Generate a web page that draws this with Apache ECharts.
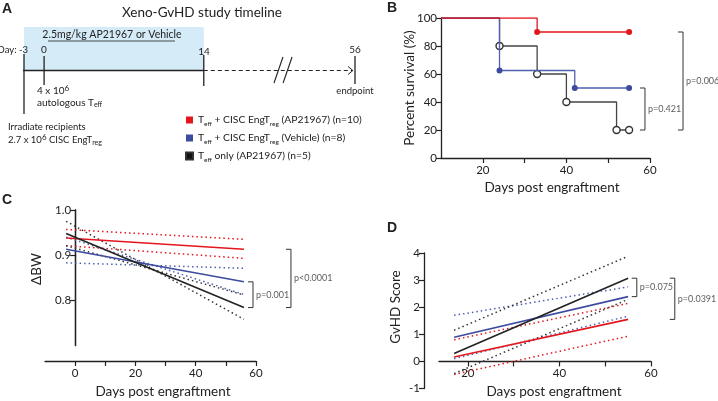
<!DOCTYPE html>
<html><head><meta charset="utf-8">
<script src="https://cdn.jsdelivr.net/npm/echarts@6/dist/echarts.min.js"></script>
<style>html,body{margin:0;padding:0;background:#fff}#c{width:718px;height:401px}</style>
</head><body><div id="c"></div>
<script>
// ================= DATA =================
// Panel A – study timeline (days)
const timelineDays = [-3, 0, 14, 56];
const timelineDayLabels = ['Day: -3', '0', '14', '56'];
const treatmentWindow = [-3, 14];
const timelineTitle = 'Xeno-GvHD study timeline';
const treatmentLabel = '2.5mg/kg AP21967 or Vehicle';

// Groups
const groupKeys = ['AP21967', 'Vehicle', 'Teff only'];
const groupLegend = [
  'T{s|eff} + CISC EngT{s|reg} (AP21967) (n=10)',
  'T{s|eff} + CISC EngT{s|reg} (Vehicle) (n=8)',
  'T{s|eff} only (AP21967) (n=5)'
];

// Panel B – Kaplan-Meier survival
const kmDaysAP = [10, 33, 55];
const kmSurvAP = [100, 90, 90];
const kmMarkAP = [false, true, true];
const kmDaysVeh = [10, 24, 42, 55];
const kmSurvVeh = [100, 62.5, 50, 50];
const kmMarkVeh = [false, true, true, true];
const kmDaysOnly = [10, 24, 33, 40, 52, 55];
const kmSurvOnly = [100, 80, 60, 40, 20, 20];
const kmMarkOnly = [false, true, true, true, true, true];
const pValuesB = ['p=0.421', 'p=0.006'];

// Panel C – body weight regression (ΔBW), values at first/last day
const bwDays = [-3, 56];
const bwAP = [0.938, 0.913];
const bwAPBandA = [0.957, 0.935];
const bwAPBandB = [0.921, 0.893];
const bwVeh = [0.913, 0.841];
const bwVehBandA = [0.883, 0.871];
const bwVehBandB = [0.940, 0.813];
const bwOnly = [0.948, 0.784];
const bwOnlyBandA = [0.975, 0.758];
const bwOnlyBandB = [0.921, 0.812];
const pValuesC = ['p=0.001', 'p<0.0001'];

// Panel D – GvHD score regression
const gvDays = [17, 55];
const gvAP = [0.16, 1.55];
const gvAPBandA = [0.80, 2.14];
const gvAPBandB = [-0.48, 0.93];
const gvVeh = [0.89, 2.39];
const gvVehBandA = [1.70, 2.75];
const gvVehBandB = [0.10, 1.67];
const gvOnly = [0.29, 3.07];
const gvOnlyBandA = [1.15, 3.88];
const gvOnlyBandB = [-0.45, 2.29];
const pValuesD = ['p=0.075', 'p=0.0391'];

// ================= STYLE / LAYOUT =================
const FONT = 'Lato, "Open Sans", sans-serif';
const INK = '#222';
const RED = '#e3161d', BLUE = '#3c4a9f', BLUE_L = '#5060b0', BLACK = '#222', GREY = '#444';
const DOT = [1.5, 3];

// schematic (non-linear) placement of timeline days along panel A
const tlAnchorDay = [-3, 0, 14, 56];
const tlAnchorPos = [0, 1.9, 17, 31.3];
function tl(d) {
  for (let i = 0; i < tlAnchorDay.length - 1; i++) {
    if (d <= tlAnchorDay[i + 1]) {
      const t = (d - tlAnchorDay[i]) / (tlAnchorDay[i + 1] - tlAnchorDay[i]);
      return tlAnchorPos[i] + t * (tlAnchorPos[i + 1] - tlAnchorPos[i]);
    }
  }
  return tlAnchorPos[tlAnchorPos.length - 1];
}

// plot frames
const B = { left: 441, top: 18, width: 209, height: 140, xmin: 10, xmax: 60, ymin: 0, ymax: 100 };
const C = { left: 45, top: 210, width: 211, height: 135.5, xmin: -10, xmax: 60, ymin: 0.7, ymax: 1.0 };
const D = { left: 439, top: 253, width: 212, height: 135.5, xmin: 13.7, xmax: 60, ymin: -1, ymax: 4 };
const ppu = f => f.width / (f.xmax - f.xmin);

const chart = echarts.init(document.getElementById('c'));
const grids = [], xAxis = [], yAxis = [], series = [];
function addGrid(g, xa, ya) {
  const gi = grids.length;
  grids.push(g);
  xAxis.push({ gridIndex: gi, type: 'value', ...xa });
  yAxis.push({ gridIndex: gi, type: 'value', ...ya });
  return gi;
}

const axLine = { show: true, lineStyle: { color: INK, width: 1.3 } };
const tick = { show: true, length: 5, lineStyle: { color: INK, width: 1.2 } };
const lbl = { color: INK, fontSize: 11.5, fontFamily: FONT, margin: 4 };
const noSplit = { show: false };

// ---------- Panel A ----------
const gA = addGrid({ left: 24, top: 20, width: 331, height: 100 },
  { min: 0, max: 31.3, show: false }, { min: 0, max: 10, inverse: true, show: false });
const A = { xAxisIndex: gA, yAxisIndex: gA };
const lineY = 5.05;
series.push({
  type: 'line', ...A, silent: true, symbol: 'none',
  data: [[tl(treatmentWindow[0]) - 0.1, lineY], [tl(treatmentWindow[1]), lineY]],
  lineStyle: { color: INK, width: 1.3 },
  markArea: {
    silent: true, itemStyle: { color: '#d6ebf8' },
    data: [[{ coord: [tl(treatmentWindow[0]) - 0.1, 0.7] }, { coord: [tl(treatmentWindow[1]), lineY] }]]
  }
});
series.push({
  type: 'line', ...A, silent: true, symbol: 'none',
  data: [[tl(treatmentWindow[1]), lineY], [tl(timelineDays[3]) - 0.2, lineY]],
  lineStyle: { color: INK, width: 1.2, type: [4, 3] }
});
series.push({
  type: 'line', ...A, silent: true, symbol: 'none',
  data: [[tl(timelineDays[3]) - 0.66, lineY - 0.4], [tl(timelineDays[3]) - 0.2, lineY], [tl(timelineDays[3]) - 0.66, lineY + 0.4]],
  lineStyle: { color: INK, width: 1 }
});
const tickTop = [3.4, 3.6, 3.5, 3.6], tickBot = [9.4, 6.5, 6.6, 6.4];
timelineDays.forEach((d, i) => {
  series.push({
    type: 'line', ...A, silent: true, symbol: 'none',
    data: [[tl(d), tickTop[i]], [tl(d), tickBot[i]]],
    lineStyle: { color: INK, width: 1.3 }
  });
});
[[23.64, 24.49], [24.5, 25.35]].forEach(s => {
  series.push({
    type: 'line', ...A, silent: true, symbol: 'none',
    data: [[s[0], 6.3], [s[1], 3.7]], lineStyle: { color: INK, width: 1.1 }
  });
});

// ---------- Panel B ----------
const gB = addGrid({ left: B.left, top: B.top, width: B.width, height: B.height },
  { min: B.xmin, max: B.xmax, axisLine: axLine, splitLine: noSplit,
    axisTick: { ...tick, customValues: [20, 30, 40, 50, 60] }, axisLabel: { ...lbl, margin: 6, customValues: [20, 40, 60] } },
  { min: B.ymin, max: B.ymax, interval: 20, axisLine: axLine, splitLine: noSplit, axisTick: tick, axisLabel: lbl });
const gBb = addGrid({ left: B.left, top: B.top, width: 718 - B.left, height: B.height },
  { min: B.xmin, max: B.xmin + (718 - B.left) / ppu(B), show: false },
  { min: B.ymin, max: B.ymax, show: false });

function km(name, days, surv, marks, lineColor, markColor, open, z) {
  return {
    type: 'line', name, xAxisIndex: gB, yAxisIndex: gB, step: 'end', z,
    data: days.map((d, i) => ({ value: [d, surv[i]], symbol: marks[i] ? 'circle' : 'none' })),
    symbolSize: open ? 7 : 6, showSymbol: true,
    lineStyle: { color: lineColor, width: 1.3 },
    itemStyle: open ? { color: '#fff', borderColor: markColor, borderWidth: 1.4 } : { color: markColor, borderWidth: 0 },
    color: markColor
  };
}
series.push(km(groupKeys[2], kmDaysOnly, kmSurvOnly, kmMarkOnly, GREY, '#333', true, 2));
series.push(km(groupKeys[1], kmDaysVeh, kmSurvVeh, kmMarkVeh, BLUE_L, BLUE, false, 3));
series.push(km(groupKeys[0], kmDaysAP, kmSurvAP, kmMarkAP, RED, RED, false, 4));

function bracket(gi, x, yTop, yBot, arm, text) {
  series.push({
    type: 'line', xAxisIndex: gi, yAxisIndex: gi, silent: true, symbol: 'none', z: 5,
    data: [[x - arm, yTop], [x, yTop], [x, yBot], [x - arm, yBot]],
    lineStyle: { color: '#333', width: 1 }
  });
  series.push({
    type: 'scatter', xAxisIndex: gi, yAxisIndex: gi, silent: true, symbolSize: 0, z: 5,
    data: [[x, (yTop + yBot) / 2]],
    label: { show: true, position: 'right', distance: 3, formatter: text, color: '#333', fontSize: 9, fontFamily: FONT }
  });
}
bracket(gBb, 58.8, kmSurvVeh[3], kmSurvOnly[5], 1.2, pValuesB[0]);
bracket(gBb, 67.9, kmSurvAP[2], kmSurvOnly[5], 1.2, pValuesB[1]);

// ---------- Panel C ----------
const gC = addGrid({ left: C.left, top: C.top, width: C.width, height: C.height },
  { min: C.xmin, max: C.xmax, offset: 15.5, axisLine: { ...axLine, onZero: false }, splitLine: noSplit,
    axisTick: { ...tick, customValues: [0, 10, 20, 30, 40, 50, 60] }, axisLabel: { ...lbl, margin: 6, customValues: [0, 20, 40, 60] } },
  { min: C.ymin, max: C.ymax, interval: 0.1, axisLine: { ...axLine, onZero: true }, splitLine: noSplit,
    axisTick: { show: false }, axisLabel: { show: false } });
const cZero = C.left + (0 - C.xmin) * ppu(C);
addGrid({ left: cZero, top: C.top, width: C.left + C.width - cZero, height: C.height },
  { min: 0, max: C.xmax, show: false },
  { min: C.ymin, max: C.ymax, interval: 0.1, axisLine: { ...axLine, onZero: false }, splitLine: noSplit,
    axisTick: { ...tick, customValues: [0.8, 0.9, 1.0] },
    axisLabel: { ...lbl, customValues: [0.8, 0.9, 1.0], formatter: v => v.toFixed(1) } });
const gCb = addGrid({ left: C.left, top: C.top, width: 345 - C.left, height: C.height },
  { min: C.xmin, max: C.xmin + (345 - C.left) / ppu(C), show: false },
  { min: C.ymin, max: C.ymax, show: false });

function reg(name, gi, xs, ys, color, dotted, z) {
  return {
    type: 'line', name, xAxisIndex: gi, yAxisIndex: gi, symbol: 'none', silent: true, z,
    data: xs.map((x, i) => [x, ys[i]]),
    color,
    lineStyle: dotted ? { color, width: 1.5, type: DOT } : { color, width: 1.6 }
  };
}
series.push(reg(groupKeys[0], gC, bwDays, bwAPBandA, RED, true, 2));
series.push(reg(groupKeys[0], gC, bwDays, bwAPBandB, RED, true, 2));
series.push(reg(groupKeys[1], gC, bwDays, bwVehBandA, BLUE_L, true, 2));
series.push(reg(groupKeys[1], gC, bwDays, bwVehBandB, BLUE_L, true, 2));
series.push(reg(groupKeys[2], gC, bwDays, bwOnlyBandA, '#333', true, 2));
series.push(reg(groupKeys[2], gC, bwDays, bwOnlyBandB, '#333', true, 2));
series.push(reg(groupKeys[0], gC, bwDays, bwAP, RED, false, 3));
series.push(reg(groupKeys[1], gC, bwDays, bwVeh, BLUE, false, 3));
series.push(reg(groupKeys[2], gC, bwDays, bwOnly, BLACK, false, 3));
bracket(gCb, 59, bwVeh[1], bwOnly[1], 1.66, pValuesC[0]);
bracket(gCb, 71.6, bwAP[1], bwOnly[1], 1.66, pValuesC[1]);

// ---------- Panel D ----------
const gD = addGrid({ left: D.left, top: D.top, width: D.width, height: D.height },
  { min: D.xmin, max: D.xmax, show: false },
  { min: D.ymin, max: D.ymax, interval: 1, offset: 15, axisLine: { ...axLine, onZero: false }, splitLine: noSplit,
    axisTick: tick, axisLabel: lbl });
const dZeroH = D.height * (D.ymax - 0) / (D.ymax - D.ymin);
addGrid({ left: D.left, top: D.top, width: D.width, height: dZeroH },
  { min: D.xmin, max: D.xmax, axisLine: { ...axLine, onZero: false }, splitLine: noSplit,
    axisTick: { ...tick, customValues: [20, 30, 40, 50, 60] }, axisLabel: { ...lbl, margin: 6, customValues: [20, 40, 60] } },
  { min: 0, max: D.ymax, show: false });
const gDb = addGrid({ left: D.left, top: D.top, width: 718 - D.left, height: D.height },
  { min: D.xmin, max: D.xmin + (718 - D.left) / ppu(D), show: false },
  { min: D.ymin, max: D.ymax, show: false });

series.push(reg(groupKeys[0], gD, gvDays, gvAPBandA, RED, true, 2));
series.push(reg(groupKeys[0], gD, gvDays, gvAPBandB, RED, true, 2));
series.push(reg(groupKeys[1], gD, gvDays, gvVehBandA, BLUE_L, true, 2));
series.push(reg(groupKeys[1], gD, gvDays, gvVehBandB, BLUE_L, true, 2));
series.push(reg(groupKeys[2], gD, gvDays, gvOnlyBandA, '#333', true, 2));
series.push(reg(groupKeys[2], gD, gvDays, gvOnlyBandB, '#333', true, 2));
series.push(reg(groupKeys[0], gD, gvDays, gvAP, RED, false, 3));
series.push(reg(groupKeys[1], gD, gvDays, gvVeh, BLUE, false, 3));
series.push(reg(groupKeys[2], gD, gvDays, gvOnly, BLACK, false, 3));
bracket(gDb, 56.9, gvOnly[1], gvVeh[1], 1.1, pValuesD[0]);
bracket(gDb, 65.2, gvOnly[1], gvAP[1], 1.1, pValuesD[1]);

// ---------- text ----------
function txt(x, y, text, opt = {}) {
  return {
    type: 'text', x, y, rotation: opt.rot || 0, silent: true, z: 100,
    style: {
      text, fill: opt.color || INK, fontSize: opt.size || 11, fontFamily: opt.family || FONT,
      fontWeight: opt.weight || 'normal', align: opt.align || 'left', verticalAlign: opt.va || 'middle',
      rich: opt.rich
    }
  };
}
const subRich = {
  s: { fontSize: 7, fontFamily: FONT, fill: INK, verticalAlign: 'bottom', padding: [4, 0, 0, 0] },
  p: { fontSize: 8, fontFamily: FONT, fill: INK, verticalAlign: 'top', padding: [0, 0, 5, 0] }
};
const graphic = [
  txt(2, 9, 'A', { size: 14, weight: 'bold', family: 'Arial' }),
  txt(387, 8, 'B', { size: 14, weight: 'bold', family: 'Arial' }),
  txt(2, 200, 'C', { size: 14, weight: 'bold', family: 'Arial' }),
  txt(387, 228, 'D', { size: 14, weight: 'bold', family: 'Arial' }),
  txt(202, 13, timelineTitle, { size: 13.5, align: 'center' }),
  txt(112, 35, treatmentLabel, { size: 10.5, align: 'center' }),
  { type: 'line', silent: true, z: 100, shape: { x1: 48, y1: 41, x2: 175, y2: 41 }, style: { stroke: INK, lineWidth: 0.8 } },
  txt(28, 50, timelineDayLabels[0], { size: 9.5, align: 'right' }),
  txt(44, 50, timelineDayLabels[1], { size: 10, align: 'center' }),
  txt(204, 52, timelineDayLabels[2], { size: 10, align: 'center' }),
  txt(355, 50, timelineDayLabels[3], { size: 10, align: 'center' }),
  txt(37, 91, '4 x 10{p|6}', { size: 10, rich: subRich }),
  txt(37, 103, 'autologous T{s|eff}', { size: 10, rich: subRich }),
  txt(8, 127, 'Irradiate recipients', { size: 9.5 }),
  txt(8, 140, '2.7 x 10{p|6} CISC EngT{s|reg}', { size: 9.5, rich: subRich }),
  txt(355, 91, 'endpoint', { size: 9.5, align: 'center' }),
  txt(410, 88, 'Percent survival (%)', { size: 13.5, align: 'center', rot: Math.PI / 2 }),
  txt(552, 188, 'Days post engraftment', { size: 13.5, align: 'center' }),
  txt(37, 269, 'ΔBW', { size: 13.5, align: 'center', rot: Math.PI / 2 }),
  txt(163, 392, 'Days post engraftment', { size: 13.5, align: 'center' }),
  txt(396, 307, 'GvHD Score', { size: 13.5, align: 'center', rot: Math.PI / 2 }),
  txt(554, 392, 'Days post engraftment', { size: 13.5, align: 'center' })
];

const legendColors = [RED, BLUE, '#111'];
chart.setOption({
  animation: false,
  textStyle: { fontFamily: FONT },
  grid: grids, xAxis, yAxis, series, graphic,
  legend: {
    orient: 'vertical', left: 180, top: 108, icon: 'rect', itemWidth: 7, itemHeight: 7, itemGap: 4,
    selectedMode: false,
    data: groupKeys.map((k, i) => ({ name: k, itemStyle: { color: legendColors[i] } })),
    formatter: name => groupLegend[groupKeys.indexOf(name)],
    textStyle: {
      fontSize: 10.3, color: INK, fontFamily: FONT, lineHeight: 14,
      rich: { s: { fontSize: 6.5, color: INK, fontFamily: FONT, verticalAlign: 'bottom', padding: [4, 0, 0, 0] } }
    }
  }
});
</script>
</body></html>
